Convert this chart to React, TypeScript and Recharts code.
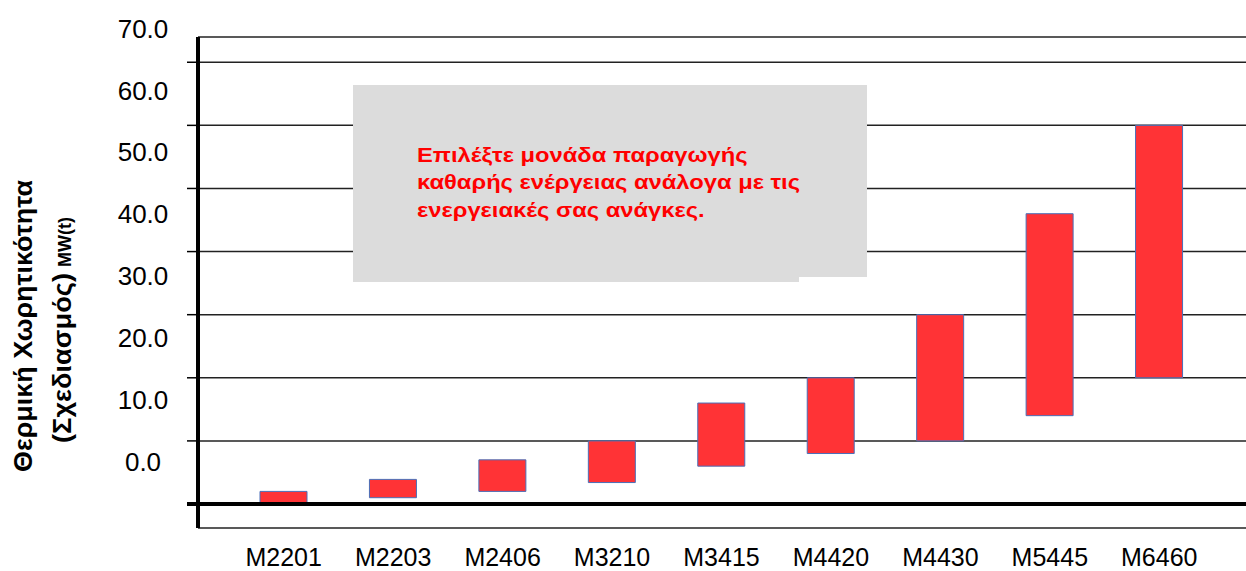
import React from "react";
import {
  BarChart,
  Bar,
  XAxis,
  YAxis,
  CartesianGrid,
  ReferenceLine,
} from "recharts";

const categories = ["M2201", "M2203", "M2406", "M3210", "M3415", "M4420", "M4430", "M5445", "M6460"];
const lowValues = [0, 1, 2, 3.4, 6, 8, 10, 14, 20];
const highValues = [2, 3.9, 7, 10, 16, 20, 30, 46, 60];
const yTicks = [0, 10, 20, 30, 40, 50, 60, 70];
const titleLine1 = "Θερμική Χωρητικότητα";
const titleLine2 = "(Σχεδιασμός)";
const titleUnit = "MW(t)";
const noteLines = [
  "Επιλέξτε μονάδα παραγωγής",
  "καθαρής ενέργειας ανάλογα με τις",
  "ενεργειακές σας ανάγκες.",
];

const FONT = "'Liberation Sans', Arial, sans-serif";

const data = categories.map((name, i) => ({
  name,
  range: [lowValues[i], highValues[i]],
}));

function YTick({ x, y, payload }: any) {
  const v = payload.value;
  // labels sit a little above their gridlines, as in the source
  const off = -42.5 + 0.13 * v;
  return (
    <g>
      <line x1={x - 11} x2={x} y1={y} y2={y} stroke="#000" strokeWidth={v === 0 ? 4 : 1.5} />
      <text x={x - 55} y={y + off + 9} textAnchor="middle" fontSize={26} fontFamily={FONT} fill="#000">
        {v.toFixed(1)}
      </text>
    </g>
  );
}

function XTick({ x, y, payload }: any) {
  return (
    <text x={x} y={y + 38} textAnchor="middle" fontSize={25} fontFamily={FONT} fill="#000">
      {payload.value}
    </text>
  );
}

function AxisTitle({ viewBox }: any) {
  const l1 = viewBox.x + 32;
  const l2 = viewBox.x + 71;
  return (
    <g fontFamily={FONT} fontWeight="bold" fill="#000">
      <text
        x={l1}
        y={326}
        fontSize={25}
        textAnchor="middle"
        textLength={292}
        lengthAdjust="spacingAndGlyphs"
        transform={`rotate(-90, ${l1}, 326)`}
      >
        {titleLine1}
      </text>
      <g transform={`rotate(-90, ${l2}, 330)`}>
        <text x={l2 - 113} y={330} fontSize={25} textLength={170} lengthAdjust="spacingAndGlyphs">
          {titleLine2}
        </text>
        <text x={l2 + 113} y={330} fontSize={18} textAnchor="end">
          {titleUnit}
        </text>
      </g>
    </g>
  );
}

export default function App() {
  return (
    <div style={{ position: "absolute", left: 0, top: 0, width: 1246, height: 571, background: "#fff" }}>
      <BarChart
        width={1246}
        height={571}
        data={data}
        barSize={47}
        margin={{ top: 37, right: 0, bottom: 0, left: 0 }}
      >
        <CartesianGrid vertical={false} stroke="#222" strokeWidth={1.5} />
        <XAxis
          dataKey="name"
          axisLine={false}
          tickLine={false}
          tickSize={0}
          tickMargin={0}
          height={43}
          interval={0}
          padding={{ left: 31, right: 32 }}
          tick={<XTick />}
        />
        <YAxis
          type="number"
          domain={[-3.8, 74]}
          ticks={yTicks}
          interval={0}
          width={198}
          axisLine={{ stroke: "#000", strokeWidth: 4 }}
          tickLine={false}
          tickSize={0}
          tickMargin={0}
          tick={<YTick />}
          label={{ content: (p: any) => <AxisTitle {...p} /> }}
        />
        <ReferenceLine y={0} stroke="#000" strokeWidth={4} />
        <Bar dataKey="range" fill="#ff3336" stroke="#4a6fb8" strokeWidth={1} isAnimationActive={false} />
      </BarChart>

      {/* grey note box; its lower edge steps up near the right end */}
      <div style={{ position: "absolute", left: 353, top: 277, width: 446, height: 5, background: "#dcdcdc" }} />
      <div
        style={{
          position: "absolute",
          left: 353,
          top: 85,
          width: 514,
          height: 192,
          background: "#dcdcdc",
          boxSizing: "border-box",
          paddingLeft: 64,
          paddingTop: 55.5,
          fontFamily: FONT,
          fontWeight: "bold",
          fontSize: 21,
          lineHeight: "27.7px",
          color: "#ff0000",
        }}
      >
        <div style={{ transform: "scaleX(1.13)", transformOrigin: "left top", whiteSpace: "nowrap" }}>
          {noteLines.map((line, i) => (
            <div key={i}>{line}</div>
          ))}
        </div>
      </div>
    </div>
  );
}
